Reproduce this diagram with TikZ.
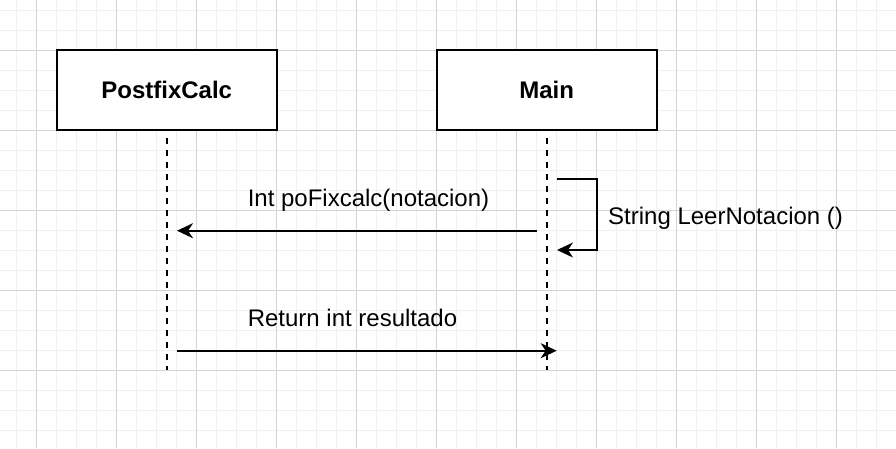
\documentclass[tikz,border=0pt]{standalone}
\usepackage{fontspec}
\setmainfont{Liberation Sans}
\usetikzlibrary{arrows.meta}
\definecolor{gridminor}{HTML}{F0F0F0}
\definecolor{gridmajor}{HTML}{D4D4D4}
\tikzset{
  objbox/.style={draw=black, line width=2pt, fill=white, minimum width=220pt, minimum height=80pt, inner sep=0pt, font=\fontsize{24}{28}\selectfont\bfseries},
  lifeline/.style={draw=black, line width=2pt, dash pattern=on 6pt off 6pt},
  msg/.style={draw=black, line width=2pt, -{Stealth[length=16pt,width=15pt,inset=5pt]}},
  msglabel/.style={inner sep=0pt, font=\fontsize{24}{28}\selectfont},
}
\begin{document}
\begin{tikzpicture}[x=1pt,y=-1pt]
\useasboundingbox (0,0) rectangle (896,448);
\fill[white] (0,0) rectangle (896,448);
% grid
\foreach \i in {0,...,45} {
  \draw[gridminor, line width=1pt] ({-3.3+20*\i},0) -- ({-3.3+20*\i},448);
}
\foreach \j in {0,...,22} {
  \draw[gridminor, line width=1pt] (0,{-10+20*\j}) -- (896,{-10+20*\j});
}
\foreach \i in {0,...,11} {
  \draw[gridmajor, line width=1pt] ({36.7+80*\i},0) -- ({36.7+80*\i},448);
}
\foreach \j in {0,...,5} {
  \draw[gridmajor, line width=1pt] (0,{-30+80*\j}) -- (896,{-30+80*\j});
}
% objects
\node[objbox] (pc) at (166.7,90.3) {PostfixCalc};
\node[objbox] (mn) at (546.7,90.3) {Main};
\coordinate (pcend) at (166.7,370);
\coordinate (mnend) at (546.7,370);
\draw[lifeline] ([yshift=-7pt]pc.south) -- (pcend);
\draw[lifeline] ([yshift=-7pt]mn.south) -- (mnend);
% message 1
\coordinate (m1s) at (537,230.7);
\coordinate (m1e) at (177,230.7);
\draw[msg] (m1s) -- (m1e);
\node[msglabel] (l1) at (368.5,200) {Int poFixcalc(notacion)};
% self message
\coordinate (s1) at (556.7,179);
\coordinate (s2) at (597.3,179);
\coordinate (s3) at (597.3,250);
\coordinate (s4) at (557,250);
\draw[msg] (s1) -- (s2) -- (s3) -- (s4);
\node[msglabel, anchor=west] (l2) at (608,218) {String LeerNotacion ()};
% message 3
\coordinate (m3s) at (176.7,350.7);
\coordinate (m3e) at (556.7,350.7);
\draw[msg] (m3s) -- (m3e);
\node[msglabel] (l3) at (352.5,318) {Return int resultado};
\end{tikzpicture}
\end{document}
